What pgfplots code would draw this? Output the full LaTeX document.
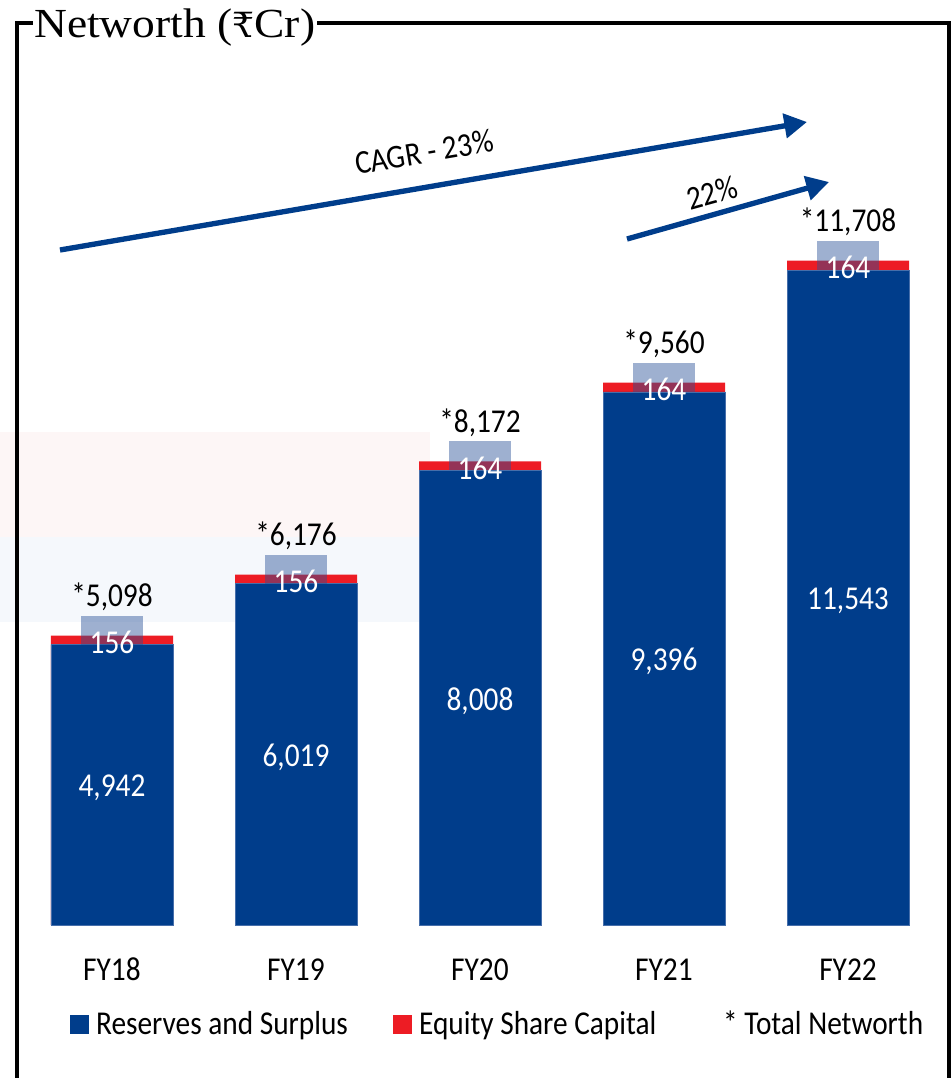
\documentclass[border=0pt]{standalone}
\usepackage{pgfplots}
\pgfplotsset{compat=1.18}
\usepackage{pgfplotstable}
\usepackage{fontspec}
\setmainfont{Carlito}[FakeStretch=0.88]
\newfontfamily\titlefont{Liberation Serif}[FakeStretch=1.1]
\newfontfamily\rupeefont{DejaVu Serif}
\usetikzlibrary{arrows.meta}
\definecolor{nblue}{RGB}{0,61,139}
\definecolor{nred}{RGB}{237,28,36}
\definecolor{boxc}{RGB}{40,80,150}
\definecolor{pinkband}{RGB}{253,246,246}
\definecolor{blueband}{RGB}{245,248,252}
\definecolor{edgeblue}{RGB}{70,110,170}

\pgfplotstableread{
x res eq tot reslab eqlab totlab
0 4942 156 5098 4,942 156 *5,098
1 6019 156 6176 6,019 156 *6,176
2 8008 164 8172 8,008 164 *8,172
3 9396 164 9560 9,396 164 *9,560
4 11543 164 11708 11,543 164 *11,708
}\data

\begin{document}
\begin{tikzpicture}[font=\fontsize{25}{29}\selectfont]
\begin{scope}[x=0.75pt,y=-0.75pt]
\fill[pinkband] (0,432) rectangle (430,537);
\fill[blueband] (0,537) rectangle (430,622);
\end{scope}
\begin{axis}[
  at={(15pt,-693.75pt)}, anchor=south west,
  scale only axis, width=690pt, height=595.8pt,
  xmin=-0.5, xmax=4.5, ymin=0, ymax=14000,
  axis line style={draw=none}, tick style={draw=none},
  ytick=\empty, xtick={0,1,2,3,4},
  xticklabels={FY18,FY19,FY20,FY21,FY22},
  xticklabel style={anchor=base, yshift=-41.25pt},
  clip=false,
  legend columns=3,
  legend style={at={(0.5196,-0.1246)}, anchor=center, draw=none, fill=none,
    /tikz/column 2/.style={column sep=32pt},
    /tikz/column 4/.style={column sep=46pt}},
]
\addlegendimage{legend image code/.code={\fill[nblue] (0pt,-6.75pt) rectangle (13.5pt,6.75pt); \path (17pt,0pt);}}
\addlegendentry{Reserves and Surplus}
\addlegendimage{legend image code/.code={\fill[nred] (0pt,-6.75pt) rectangle (13.5pt,6.75pt); \path (17pt,0pt);}}
\addlegendentry{Equity Share Capital}
\addlegendimage{legend image code/.code={}}
\addlegendentry{* Total Networth}

\addplot[ybar, bar shift=0pt, bar width=91.5pt, fill=nred, draw=none, forget plot]
  table[x=x,y=tot]{\data};
\addplot[ybar, bar shift=0pt, bar width=91.5pt, fill=nblue, draw=edgeblue, line width=0.5pt, forget plot]
  table[x=x,y=res]{\data};
% reserves labels
\addplot[draw=none, mark=none, forget plot, nodes near coords, point meta=explicit symbolic,
  nodes near coords style={anchor=center, text=white, yshift=-2.5pt}]
  table[x=x, y expr=\thisrow{res}/2, meta=reslab]{\data};
% equity boxes
\addplot[draw=none, mark=none, forget plot, nodes near coords={},
  nodes near coords style={anchor=center, yshift=4.125pt, fill=boxc, fill opacity=0.45,
    minimum width=46.5pt, minimum height=21.75pt, inner sep=0pt}]
  table[x=x,y=tot]{\data};
% equity labels
\addplot[draw=none, mark=none, forget plot, nodes near coords, point meta=explicit symbolic,
  nodes near coords style={anchor=center, text=white, yshift=-5.25pt}]
  table[x=x,y=tot,meta=eqlab]{\data};
% total labels
\addplot[draw=none, mark=none, forget plot, nodes near coords, point meta=explicit symbolic,
  nodes near coords style={anchor=center, text=black, yshift=29.25pt}]
  table[x=x,y=tot,meta=totlab]{\data};
\end{axis}
\begin{scope}[x=0.75pt,y=-0.75pt]
\draw[nblue, line width=4pt, -{Triangle[length=17pt,width=18pt]}] (60,250) -- (807,122);
\draw[nblue, line width=4pt, -{Triangle[length=17pt,width=18pt]}] (627,239) -- (829,182);
\node[rotate=9.7] at (424,152) {CAGR - 23\%};
\node[rotate=15.4] at (712,193) {22\%};
\draw[line width=3pt] (17,1085) -- (17,23) -- (33,23);
\draw[line width=3pt] (317,23) -- (949,23) -- (949,1085);
\node[anchor=base west, inner sep=0pt, font=\titlefont\fontsize{31}{36}\selectfont] at (34,37) {Networth ({\rupeefont\fontsize{26}{30}\selectfont ₹}Cr)};
\pgfresetboundingbox
\path[use as bounding box] (0,0) rectangle (952,1078);
\end{scope}
\end{tikzpicture}
\end{document}
